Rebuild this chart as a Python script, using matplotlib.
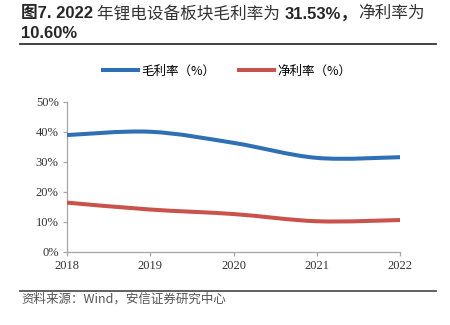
import numpy as np
import matplotlib
matplotlib.use("Agg")
import matplotlib.pyplot as plt
from matplotlib.path import Path
from matplotlib.patches import PathPatch
from matplotlib.lines import Line2D
from matplotlib.ticker import FuncFormatter

years = [2018, 2019, 2020, 2021, 2022]
gross_margin = [38.9, 40.0, 36.3, 31.3, 31.53]
net_margin = [16.4, 14.1, 12.6, 10.2, 10.60]

# title pieces: (text, bold)
title_line1 = [("图7. 2022 ", True), ("年锂电设备板块毛利率为 ", False),
               ("31.53%，", True), ("净利率为", False)]
title_line2 = [("10.60%", True)]
legend_labels = ["毛利率（%）", "净利率（%）"]
source_text = "资料来源：Wind，安信证券研究中心"

BLUE = "#2f70b5"
RED = "#c9524b"
SANS = ["Liberation Sans", "Noto Sans CJK SC"]
CJK = ["Noto Sans CJK SC", "DejaVu Sans"]


def smooth_path(xs, ys):
    # bezier through every point, control points from the neighbours
    pts = np.column_stack([xs, ys]).astype(float)
    n = len(pts)
    verts = [pts[0]]
    codes = [Path.MOVETO]
    for i in range(n - 1):
        p0 = pts[i - 1] if i > 0 else pts[i]
        p1 = pts[i]
        p2 = pts[i + 1]
        p3 = pts[i + 2] if i + 2 < n else pts[i + 1]
        c1 = p1 + (p2 - p0) / 6.0
        c2 = p2 - (p3 - p1) / 6.0
        verts += [c1, c2, p2]
        codes += [Path.CURVE4] * 3
    return Path(verts, codes)


def draw_pieces(fig, pieces, x, y, size):
    renderer = fig.canvas.get_renderer()
    fw = fig.get_figwidth() * fig.dpi
    for text, bold in pieces:
        t = fig.text(x, y, text, fontsize=size, family=SANS, va="baseline",
                     fontweight="bold" if bold else "medium",
                     color="#262626" if bold else "#333333")
        x += t.get_window_extent(renderer).width / fw


fig = plt.figure(figsize=(4.5, 3.25), dpi=100)
ax = fig.add_axes([0.149, 0.225, 0.74, 0.462])

for vals, color in [(gross_margin, BLUE), (net_margin, RED)]:
    patch = PathPatch(smooth_path(years, vals), fill=False, edgecolor=color,
                      lw=2.9, capstyle="butt", zorder=3)
    ax.add_patch(patch)

ax.set_xlim(2018, 2022)
ax.set_ylim(0, 50)
ax.set_xticks(years)
ax.set_yticks(range(0, 51, 10))
ax.yaxis.set_major_formatter(FuncFormatter(lambda v, p: f"{v:.0f}%"))

for side in ["top", "right"]:
    ax.spines[side].set_visible(False)
for side in ["left", "bottom"]:
    ax.spines[side].set_color("#a6a6a6")
    ax.spines[side].set_linewidth(0.9)
ax.tick_params(axis="both", direction="out", length=3, width=0.9, color="#a6a6a6",
               labelsize=9, labelcolor="#333333")
ax.tick_params(axis="x", pad=3)
ax.tick_params(axis="y", pad=3)
for lab in ax.get_xticklabels() + ax.get_yticklabels():
    lab.set_fontfamily("Liberation Serif")

handles = [Line2D([], [], color=BLUE, lw=2.9), Line2D([], [], color=RED, lw=2.9)]
fig.legend(handles, legend_labels, loc="center", bbox_to_anchor=(0.505, 0.782),
           ncol=2, frameon=False, handlelength=2.8, handletextpad=0.3,
           columnspacing=1.9, prop={"family": CJK, "size": 9})

draw_pieces(fig, title_line1, 0.046, 0.944, 12)
draw_pieces(fig, title_line2, 0.046, 0.883, 12)

fig.add_artist(Line2D([0.044, 0.969], [0.865, 0.865], color="#333333", lw=1.3))
fig.add_artist(Line2D([0.044, 0.969], [0.105, 0.105], color="#555555", lw=1.3))

fig.text(0.047, 0.08, source_text, fontsize=9, family=CJK, color="#555555",
         va="center")

fig.savefig("out.png", dpi=100)
